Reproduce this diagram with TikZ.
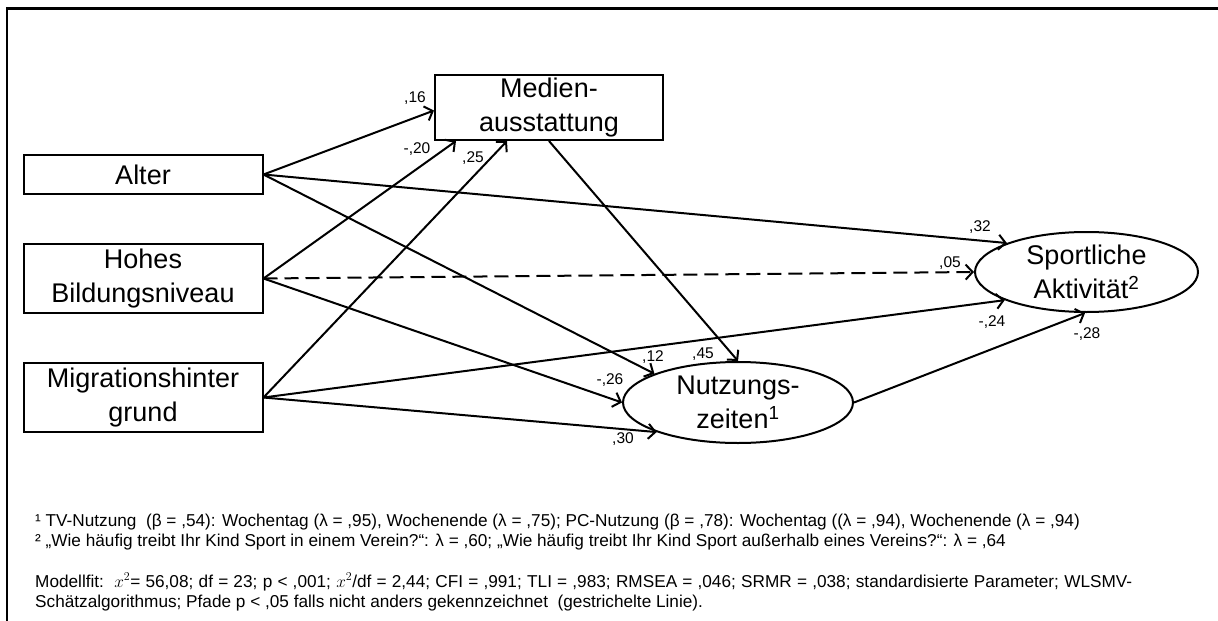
\documentclass[tikz,border=0pt]{standalone}
\usepackage{fontspec}
\setmainfont{Liberation Sans}
\usetikzlibrary{arrows.meta,calc,shapes.geometric}
\begin{document}
\begin{tikzpicture}[x=1pt,y=-1pt,
  box/.style={draw,line width=2pt,inner sep=0pt,align=center,
    font=\fontsize{27}{34}\selectfont},
  latent/.style={draw,ellipse,line width=2pt,inner sep=0pt,align=center,
    font=\fontsize{27}{34}\selectfont},
  path/.style={line width=2pt,-{Straight Barb[length=7pt,width=15pt,line width=2pt]}},
  nsig/.style={dash pattern=on 14pt off 7pt},
  coef/.style={inner sep=0pt,font=\fontsize{15.5}{15.5}\selectfont},
  note/.style={inner sep=0pt,anchor=base west,font=\fontsize{17.2}{20}\selectfont},
]
\useasboundingbox (0,0) rectangle (1218,621);

% outer frame (top and left edges)
\draw[line width=2.6pt] (7,621) -- (7,8.5) -- (1218,8.5);

% observed variables
\node[box,minimum width=239pt,minimum height=39pt] (alter) at (143,174.5) {Alter};
\node[box,minimum width=239pt,minimum height=69pt] (hohes) at (143,278.5) {Hohes\\Bildungsniveau};
\node[box,minimum width=239pt,minimum height=69pt] (mig) at (143,397.5) {Migrationshinter\\grund};
\node[box,minimum width=228pt,minimum height=65pt] (medien) at (549,107.5) {Medien-\\ausstattung};

% latent variables
\node[latent,minimum width=230pt,minimum height=81pt] (nutz) at (738,402.5) {Nutzungs-\\zeiten\textsuperscript{1}};
\node[latent,minimum width=223pt,minimum height=80pt] (sport) at (1086.5,272) {Sportliche\\Aktivität\textsuperscript{2}};

% paths
\draw[path] (alter.east) -- ($(medien.west)+(0,3)$);
\draw[path] (hohes.east) -- ($(medien.south west)+(22,0)$);
\draw[path] (mig.east) -- ($(medien.south west)+(73,0)$);
\draw[path] (alter.east) -- (sport.160);
\draw[path,nsig] (hohes.east) -- (sport.west);
\draw[path] (mig.east) -- (sport.199);
\draw[path] (alter.east) -- (nutz.161);
\draw[path] (hohes.east) -- (nutz.west);
\draw[path] (mig.east) -- (nutz.200);
\draw[path] (medien.south) -- (nutz.north);
\draw[path] (nutz.east) -- (sport.268);

% path coefficients
\node[coef] (c16) at (415,98) {,16};
\node[coef] (c20) at (417,149) {-,20};
\node[coef] (c25) at (473,158) {,25};
\node[coef] (c32) at (980,227) {,32};
\node[coef] (c05) at (950,263) {,05};
\node[coef] (c24) at (992,322) {-,24};
\node[coef] (c28) at (1087,334) {-,28};
\node[coef] (c12) at (653,357) {,12};
\node[coef] (c45) at (703,354) {,45};
\node[coef] (c26) at (610,380) {-,26};
\node[coef] (c30) at (623,439) {,30};

% notes
\node[note] (fn1) at (35,526) {¹ TV-Nutzung\ \ (β = ,54): Wochentag (λ = ,95), Wochenende (λ = ,75); PC-Nutzung (β = ,78): Wochentag ((λ = ,94), Wochenende (λ = ,94)};
\node[note] (fn2) at (35,546) {² „Wie häufig treibt Ihr Kind Sport in einem Verein?“: λ = ,60; „Wie häufig treibt Ihr Kind Sport außerhalb eines Vereins?“: λ = ,64};
\node[note] (fit1) at (35,587) {\makebox[1097pt][s]{Modellfit:\ \ $x^2$= 56,08; df = 23; p < ,001; $x^2$/df = 2,44; CFI = ,991; TLI = ,983; RMSEA = ,046; SRMR = ,038; standardisierte Parameter; WLSMV-}};
\node[note] (fit2) at (35,607) {Schätzalgorithmus; Pfade p < ,05 falls nicht anders gekennzeichnet\ \ (gestrichelte Linie).};
\end{tikzpicture}
\end{document}
